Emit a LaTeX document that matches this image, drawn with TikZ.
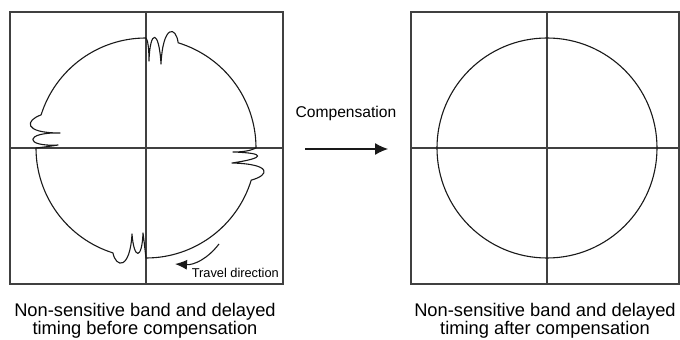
\documentclass[tikz,border=0pt]{standalone}
\usepackage{fontspec}
\setmainfont{Liberation Sans}
\usetikzlibrary{arrows.meta, calc}

\begin{document}
\begin{tikzpicture}[x=1pt, y=1pt,
    frame/.style={draw=black!75, line width=1.3pt, minimum width=273pt, minimum height=272pt, inner sep=0pt},
    axis/.style={draw=black!75, line width=1.2pt},
    trace/.style={draw=black!90, line width=1.1pt, line join=round},
    caption/.style={align=center, inner sep=0pt, anchor=north, font=\fontsize{18.3}{15.6}\selectfont}]
    \useasboundingbox (0, 0) rectangle (680, 340);

    % the two plots
    \node[frame] (before) at (146.5, 192) {};
    \node[frame, minimum width=268pt] (after) at (545, 192) {};
    \coordinate (C1) at (146, 192);
    \coordinate (C2) at (547, 192);

    \draw[axis] (C1 |- before.north) -- (C1 |- before.south);
    \draw[axis] (before.west |- C1) -- (before.east |- C1);
    \draw[axis] (C2 |- after.north) -- (C2 |- after.south);
    \draw[axis] (after.west |- C2) -- (after.east |- C2);

    % path before compensation
    \draw[trace] ($(C1)+(90:110)$)
        .. controls (148, 300) and (149, 290) .. (149, 279)
        .. controls (150, 311) and (159, 311) .. (161, 276)
        .. controls (163, 316) and (176, 314) .. ($(C1)+(73:110)$)
        arc[start angle=73, end angle=0, radius=110]
        .. controls (250, 189) and (242, 188) .. (233, 188)
        .. controls (266, 187) and (266, 182) .. (232, 177)
        .. controls (272, 176) and (270, 165) .. ($(C1)+(-17:110)$)
        arc[start angle=-17, end angle=-90, radius=110]
        .. controls (145, 90) and (144, 100) .. (143, 107)
        .. controls (142, 80) and (134, 80) .. (132, 106)
        .. controls (130, 70) and (116, 72) .. ($(C1)+(-107.5:110)$)
        arc[start angle=-107.5, end angle=-180, radius=110]
        .. controls (45, 193) and (52, 194) .. (58, 195)
        .. controls (24, 193) and (24, 208) .. (60, 207)
        .. controls (22, 207) and (26, 220) .. ($(C1)+(162.5:110)$)
        arc[start angle=162.5, end angle=90, radius=110];

    % path after compensation
    \draw[trace] (C2) circle[radius=110];

    % travel direction
    \coordinate (travelfrom) at (219, 96);
    \coordinate (travelto) at (175, 76);
    \draw[trace, -{Latex[length=12pt, width=10pt]}] (travelfrom) to[bend left=28] (travelto);
    \node[anchor=base east, inner sep=0pt, font=\fontsize{12.8}{15}\selectfont] (travel) at (279, 62) {Travel direction};

    % compensation arrow
    \coordinate (compfrom) at (305, 191);
    \coordinate (compto) at (388, 191);
    \draw[trace, -{Latex[length=13pt, width=12pt]}] (compfrom) -- (compto);
    \node[anchor=base, inner sep=0pt, font=\fontsize{15.6}{18}\selectfont] (comp) at (346, 222) {Compensation};

    % captions
    \node[caption] (capbefore) at (145, 37) {Non-sensitive band and delayed\\timing before compensation};
    \node[caption] (capafter) at (545, 37) {Non-sensitive band and delayed\\timing after compensation};
\end{tikzpicture}
\end{document}
